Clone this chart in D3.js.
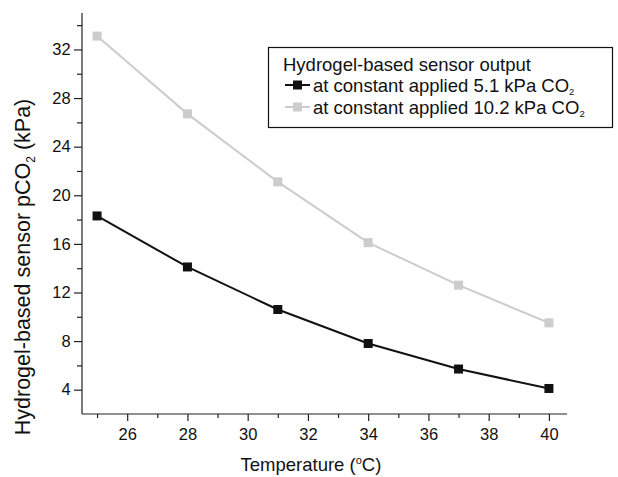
<!DOCTYPE html>
<html><head><meta charset="utf-8">
<script src="https://cdn.jsdelivr.net/npm/d3@7"></script>
<style>body{margin:0;background:#fff}svg{display:block}text{font-family:"Liberation Sans",Arial,sans-serif}</style>
</head><body>
<script>
const temperatures = [25, 28, 31, 34, 37, 40];
const series5 = [18.3, 14.1, 10.6, 7.8, 5.7, 4.1];
const series10 = [33.1, 26.7, 21.1, 16.1, 12.6, 9.5];
const xTicks = [26, 28, 30, 32, 34, 36, 38, 40];
const yTicks = [4, 8, 12, 16, 20, 24, 28, 32];
const seriesNames = ["at constant applied 5.1 kPa CO", "at constant applied 10.2 kPa CO"];
const colors = ["#111111", "#cccccc"];

const W = 618, H = 477;
const svg = d3.select("body").append("svg").attr("width", W).attr("height", H);
const x = d3.scaleLinear().domain([24.5, 40.6]).range([82, 567]);
const y = d3.scaleLinear().domain([2, 35]).range([414, 13]);
const X0 = 82, Y0 = 414;

// axes
const xAxis = d3.axisBottom(x).tickValues(d3.range(25, 40.6, 1)).tickSize(4).tickFormat(d => xTicks.includes(d) ? d : "");
const gx = svg.append("g").attr("transform", `translate(0,${Y0})`).call(xAxis);
gx.selectAll(".tick line").attr("y2", d => xTicks.includes(d) ? 7 : 4);
gx.select(".domain").attr("d", `M${X0},0H${x(40.6)}`);
const yAxis = d3.axisLeft(y).tickValues(d3.range(4, 34.1, 2)).tickSize(5).tickFormat(d => yTicks.includes(d) ? d : "");
const gy = svg.append("g").attr("transform", `translate(${X0},0)`).call(yAxis);
gy.selectAll(".tick line").attr("x2", d => yTicks.includes(d) ? -8 : -5);
gy.select(".domain").attr("d", `M0,${y(35)}V${Y0}`);
[gx, gy].forEach(g => {
  g.selectAll("path,line").attr("stroke", "#222").attr("stroke-width", 1.2);
  g.selectAll("text").attr("font-size", 16.5).attr("fill", "#111").attr("font-family", "Liberation Sans, Arial, sans-serif");
});
gx.selectAll("text").attr("dy", "1.15em");
gy.selectAll("text").attr("dx", "-0.2em");

// titles
svg.append("text").attr("x", x(32.1)).attr("y", 471).attr("text-anchor", "middle").attr("font-size", 18.5).attr("fill", "#111")
  .html('Temperature (<tspan font-size="11" dy="-7">o</tspan><tspan dy="7">C)</tspan>');
svg.append("text").attr("transform", `translate(30,${267}) rotate(-90)`).attr("text-anchor", "middle").attr("font-size", 21.5).attr("fill", "#111")
  .html('Hydrogel-based sensor pCO<tspan font-size="12" dy="5">2</tspan><tspan dy="-5"> (kPa)</tspan>');

// series
const line = d3.line().x((d, i) => x(temperatures[i])).y(d => y(d));
[series10, series5].forEach((s, k) => {
  const c = k === 0 ? colors[1] : colors[0];
  svg.append("path").datum(s).attr("d", line).attr("fill", "none").attr("stroke", c).attr("stroke-width", 2);
  svg.selectAll(null).data(s).enter().append("rect")
    .attr("x", (d, i) => x(temperatures[i]) - 4.5).attr("y", d => y(d) - 4.5).attr("width", 9).attr("height", 9).attr("fill", c);
});

// legend
const lg = svg.append("g");
lg.append("rect").attr("x", 268.5).attr("y", 47.5).attr("width", 344).attr("height", 80).attr("fill", "#fff").attr("stroke", "#111").attr("stroke-width", 1.2);
lg.append("text").attr("x", 283).attr("y", 70.5).attr("font-size", 18.5).attr("fill", "#111").text("Hydrogel-based sensor output");
seriesNames.forEach((n, i) => {
  const yy = 85 + i * 22;
  lg.append("line").attr("x1", 285).attr("x2", 310).attr("y1", yy).attr("y2", yy).attr("stroke", colors[i]).attr("stroke-width", 2);
  lg.append("rect").attr("x", 293).attr("y", yy - 4.5).attr("width", 9).attr("height", 9).attr("fill", colors[i]);
  lg.append("text").attr("x", 313).attr("y", yy + 6.5).attr("font-size", 18.5).attr("fill", "#111")
    .html(n + '<tspan font-size="9.5" dy="3">2</tspan>');
});
</script>
</body></html>
